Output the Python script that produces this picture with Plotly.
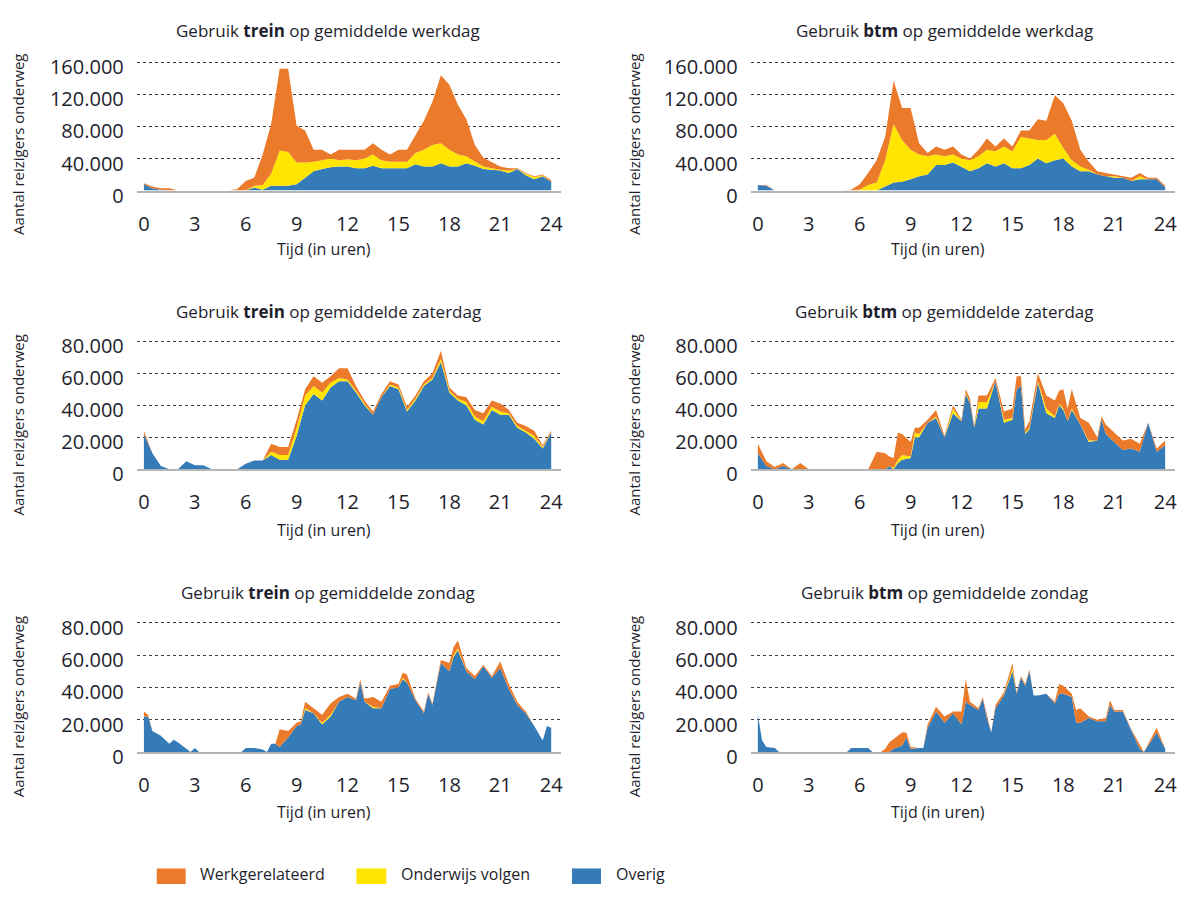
import plotly.graph_objects as go

W, H = 1181, 902

# ---------------- data (values in thousands of travellers) ----------------
T_HALF = [0, 0.5, 1, 1.5, 2, 2.5, 3, 3.5, 4, 4.5, 5, 5.5, 6, 6.5, 7, 7.5, 8, 8.5, 9, 9.5,
          10, 10.5, 11, 11.5, 12, 12.5, 13, 13.5, 14, 14.5, 15, 15.5, 16, 16.5, 17, 17.5,
          18, 18.5, 19, 19.5, 20, 20.5, 21, 21.5, 22, 22.5, 23, 23.5, 24]

# Trein - werkdag
tw_overig = [8, 3, 1, 0, 0, 0, 0, 0, 0, 0, 0, 0, 0, 4, 1, 6, 6, 6, 8, 16, 24, 27, 29, 30, 30, 28, 28,
             31, 28, 28, 28, 28, 33, 30, 30, 34, 30, 30, 34, 31, 27, 26, 25, 22, 27, 19, 14, 18, 11]
tw_onderwijs = [0, 0, 0, 0, 0, 0, 0, 0, 0, 0, 0, 0, 0, 2, 6, 15, 44, 42, 27, 19, 12, 11, 11, 8, 9, 10,
                12, 14, 10, 8, 8, 8, 14, 21, 27, 25, 21, 15, 9, 6, 3, 2, 1, 3, 0, 2, 3, 1, 0]
tw_werk = [1, 2, 2, 3, 0, 0, 0, 0, 0, 0, 0, 2, 12, 10, 38, 62, 102, 104, 46, 40, 15, 13, 5, 13, 12, 13,
           11, 14, 13, 9, 15, 15, 22, 36, 54, 85, 81, 62, 46, 20, 11, 7, 4, 3, 1, 1, 1, 1, 2]

# BTM - werkdag
bw_overig = [7, 6, 0, 0, 0, 0, 0, 0, 0, 0, 0, 0, 0, 0, 0, 5, 10, 11, 14, 18, 20, 32, 32, 35, 30, 24, 28,
             34, 30, 34, 28, 28, 32, 40, 34, 38, 40, 30, 24, 24, 20, 18, 16, 16, 12, 14, 14, 14, 4]
bw_onderwijs = [0, 0, 0, 0, 0, 0, 0, 0, 0, 0, 0, 0, 1, 7, 10, 33, 73, 52, 37, 27, 23, 13, 11, 10, 10, 14,
                15, 17, 19, 21, 21, 39, 33, 23, 29, 33, 13, 8, 6, 2, 0, 0, 2, 0, 0, 4, 0, 0, 0]
bw_werk = [0, 1, 0, 0, 0, 0, 0, 0, 0, 0, 0, 1, 7, 15, 28, 29, 54, 40, 52, 14, 4, 10, 8, 10, 5, 2, 8, 14,
           6, 10, 6, 8, 10, 26, 24, 48, 56, 49, 21, 10, 4, 4, 2, 2, 4, 4, 2, 2, 2]

# Trein - zaterdag
tz_overig = [22, 10, 2, 0, 0, 5, 2.5, 2.5, 0, 0, 0, 0, 3.5, 5.5, 5.5, 9, 6, 6, 21, 40, 47, 43, 51, 55, 55,
             48, 40, 34, 45, 52, 50, 36, 43, 52, 56, 67, 48, 43, 40, 31, 28, 37, 34, 34, 26, 23, 19, 13, 23]
tz_onderwijs = [0, 0, 0, 0, 0, 0, 0, 0, 0, 0, 0, 0, 0, 0, 0, 2, 3, 3, 5, 6, 5, 5, 3, 2, 1, 1, 1, 0, 0, 1,
                1, 1, 1, 1, 1, 2, 1, 1, 2, 2, 2, 2, 2, 1, 1, 1, 2, 1, 0]
tz_werk = [2, 0, 0, 0, 0, 0, 0, 0, 0, 0, 0, 0, 0, 0, 0, 5, 5, 5, 5, 4, 6, 6, 4, 6, 7, 3, 2, 2, 2, 2, 2, 2,
           2, 2, 3, 5, 2, 2, 3, 4, 5, 4, 5, 2, 2, 3, 3, 1, 1]

# BTM - zaterdag
bz_t = [0, 0.5, 1, 1.5, 2, 2.5, 3, 6.5, 7, 7.5, 7.75, 8, 8.25, 8.5, 9, 9.25, 9.5, 10, 10.5, 11, 11.5, 12,
        12.25, 12.5, 12.75, 13, 13.5, 14, 14.5, 15, 15.25, 15.5, 15.75, 16, 16.5, 17, 17.5, 17.75, 18,
        18.25, 18.5, 19, 19.5, 20, 20.25, 20.5, 21, 21.5, 22, 22.5, 23, 23.5, 24]
bz_overig = [10, 2, 0, 2, 0, 0, 0, 0, 0, 0, 2, 0, 4, 6, 7, 20, 20, 29, 32, 20, 35, 30, 47, 41, 26, 38, 38,
             55, 29, 31, 50, 52, 22, 25, 54, 35, 32, 40, 37, 30, 37, 28, 17, 18, 31, 22, 17, 12, 13, 11,
             29, 11, 15]
bz_onderwijs = [0, 0, 0, 0, 0, 0, 0, 0, 0, 0, 0, 1, 2, 3, 1, 3, 2, 0, 1, 0, 3, 0, 1, 0, 0, 4, 4, 0, 2, 1,
                0, 0, 1, 1, 1, 3, 1, 1, 1, 0, 1, 0, 1, 0, 0, 0, 0, 0, 0, 0, 0, 0, 0]
bz_werk = [6, 3, 1.5, 2, 0, 4, 0, 0, 11, 10, 6, 6, 17, 13, 9, 3, 4, 2, 4, 1, 2, 1, 2, 3, 1, 4, 4, 2, 5, 6,
           8, 6, 2, 4, 5, 8, 10, 8, 12, 8, 12, 4, 11, 2, 2, 6, 6, 6, 6, 5, 0, 2, 3]

# Trein - zondag
ts_t = [0, 0.25, 0.5, 1, 1.5, 1.75, 2, 2.5, 2.75, 3, 3.25, 5.75, 6, 6.5, 7, 7.25, 7.5, 7.75, 8, 8.5, 9,
        9.25, 9.5, 10, 10.5, 11, 11.5, 12, 12.5, 12.75, 13, 13.5, 14, 14.5, 15, 15.25, 15.5, 16, 16.5,
        16.75, 17, 17.5, 18, 18.25, 18.5, 19, 19.5, 20, 20.5, 21, 21.5, 22, 22.5, 23, 23.5, 23.75, 24]
ts_overig = [22, 22, 13, 10, 5, 7.5, 6, 2, 0, 2.5, 0, 0, 2.5, 2.5, 1.5, 0, 5, 5, 3, 9, 16, 17, 26, 24, 17,
             22, 31, 34, 32, 43, 31, 27, 27, 39, 40, 45, 43, 32, 24, 36, 29, 55, 50, 59, 63, 50, 45, 53,
             46, 52, 39, 29, 24, 16, 7, 16, 15]
ts_onderwijs = [0, 0, 0, 0, 0, 0, 0, 0, 0, 0, 0, 0, 0, 0, 0, 0, 0, 0, 0, 0, 0, 0, 1, 0, 1, 1, 0, 0, 0, 0,
                0, 1, 0, 0, 0, 1, 0, 0, 0, 0, 0, 0, 0, 1, 1, 0, 0, 0, 0, 0, 0, 0, 0, 0, 0, 0, 0]
ts_werk = [3, 1, 0, 0, 0, 0, 0, 0, 0, 0, 0, 0, 0, 0, 0, 0, 0, 0, 11, 4, 2, 2, 4, 3, 5, 7, 3, 2, 1, 2, 2, 6,
           4, 2, 2, 3, 5, 1, 1, 1, 1, 2, 5, 5, 5, 2, 2, 1, 1, 4, 3, 2, 1, 0, 0, 0, 0]

# BTM - zondag
bs_t = [0, 0.25, 0.5, 1, 1.25, 5.25, 5.5, 6, 6.5, 6.75, 7.25, 7.5, 7.75, 8, 8.5, 8.75, 9, 9.5, 9.75, 10,
        10.5, 11, 11.5, 12, 12.25, 12.5, 13, 13.25, 13.5, 13.75, 14, 14.5, 15, 15.25, 15.5, 15.75, 16,
        16.25, 16.5, 17, 17.5, 17.75, 18, 18.5, 18.75, 19, 19.5, 20, 20.5, 20.75, 21, 21.5, 22, 22.5,
        22.75, 23.25, 23.5, 24]
bs_overig = [23, 7, 3, 2.5, 0, 0, 2.5, 2.5, 2.5, 0, 0, 0, 0, 2, 4, 9, 2, 2.5, 2.5, 15, 25, 18, 24, 17, 31,
             29, 26, 33, 21, 12, 27, 35, 50, 36, 46, 41, 50, 35, 35, 36, 30, 36, 36, 34, 18, 18, 21, 19,
             19, 29, 25, 25, 13, 2, 0, 8, 12, 2]
bs_onderwijs = [0, 0, 0, 0, 0, 0, 0, 0, 0, 0, 0, 0, 0, 0, 0, 0, 0, 0, 0, 0, 0, 0, 0, 0, 0, 0, 0, 0, 0, 0,
                0, 0, 2, 0, 0, 0, 0, 0, 0, 0, 0, 0, 0, 0, 0, 0, 0, 0, 0, 0, 0, 0, 0, 0, 0, 0, 0, 0]
bs_werk = [0, 0, 0, 0, 0, 0, 0, 0, 0, 0, 0, 2, 6, 6, 8, 3, 1, 0, 0, 2, 3, 4, 1, 8, 14, 2, 1, 1, 2, 0, 2, 2,
           3, 1, 1, 1, 1, 0, 0, 0, 1, 6, 5, 2, 8, 9, 1, 1, 2, 3, 1, 1, 1, 3, 0, 2, 3, 0]

X_TICKS = [0, 3, 6, 9, 12, 15, 18, 21, 24]
Y_TICKS_WERKDAG = [0, 40000, 80000, 120000, 160000]
Y_LABELS_WERKDAG = ["0", "40.000", "80.000", "120.000", "160.000"]
Y_TICKS_WEEKEND = [0, 20000, 40000, 60000, 80000]
Y_LABELS_WEEKEND = ["0", "20.000", "40.000", "60.000", "80.000"]

SERIES_NAMES = ["Werkgerelateerd", "Onderwijs volgen", "Overig"]

# ---------------- style ----------------
ORANGE = "#EC7A2B"
YELLOW = "#FFE500"
BLUE = "#347BB8"
TEXT = "#1E1E2C"
FONT = "Open Sans"


def px_x(x):
    return x / W


def px_y(y):
    return 1 - y / H


panels = [
    dict(t=T_HALF, ov=tw_overig, ond=tw_onderwijs, wrk=tw_werk, col=0, row=0,
         title="Gebruik <b>trein</b> op gemiddelde werkdag", werkdag=True),
    dict(t=T_HALF, ov=bw_overig, ond=bw_onderwijs, wrk=bw_werk, col=1, row=0,
         title="Gebruik <b>btm</b> op gemiddelde werkdag", werkdag=True),
    dict(t=T_HALF, ov=tz_overig, ond=tz_onderwijs, wrk=tz_werk, col=0, row=1,
         title="Gebruik <b>trein</b> op gemiddelde zaterdag", werkdag=False),
    dict(t=bz_t, ov=bz_overig, ond=bz_onderwijs, wrk=bz_werk, col=1, row=1,
         title="Gebruik <b>btm</b> op gemiddelde zaterdag", werkdag=False),
    dict(t=ts_t, ov=ts_overig, ond=ts_onderwijs, wrk=ts_werk, col=0, row=2,
         title="Gebruik <b>trein</b> op gemiddelde zondag", werkdag=False),
    dict(t=bs_t, ov=bs_overig, ond=bs_onderwijs, wrk=bs_werk, col=1, row=2,
         title="Gebruik <b>btm</b> op gemiddelde zondag", werkdag=False),
]

# plot-area pixel boxes (top px, bottom px)
COL_X = [(137, 562), (752, 1177)]
ROW_Y = [(56, 188), (343, 475), (633, 766)]
TITLE_X = [329, 946]
TITLE_Y = [23, 312, 602]
YTITLE_X = [18, 635]
YTITLE_Y = [140, 429, 719]
XTITLE_X = [325, 940]
XTITLE_Y = [248, 538, 828]

fig = go.Figure()
layout = dict(
    width=W, height=H, margin=dict(l=0, r=0, t=0, b=0), autosize=False,
    paper_bgcolor="white", plot_bgcolor="white", showlegend=False,
    font=dict(family=FONT, color=TEXT),
)
annotations = []
shapes = []

for i, p in enumerate(panels):
    n = i + 1
    xa = "x" if n == 1 else f"x{n}"
    ya = "y" if n == 1 else f"y{n}"
    for name, vals, color in [("Overig", p["ov"], BLUE),
                              ("Onderwijs volgen", p["ond"], YELLOW),
                              ("Werkgerelateerd", p["wrk"], ORANGE)]:
        fig.add_trace(go.Scatter(
            x=p["t"], y=[v * 1000 for v in vals], name=name, mode="lines",
            stackgroup=f"g{n}", line=dict(width=0, color=color), fillcolor=color,
            xaxis=xa, yaxis=ya, showlegend=False, hoverinfo="skip"))

    x0, x1 = COL_X[p["col"]]
    top_px, bot_px = ROW_Y[p["row"]]
    top = 160000 if p["werkdag"] else 80000
    ytop = top * 1.008
    extra = (ytop - top) / top * (bot_px - top_px)
    layout["xaxis" if n == 1 else f"xaxis{n}"] = dict(
        domain=[px_x(x0), px_x(x1)], range=[-0.42, 24.58], anchor=ya,
        tickvals=X_TICKS, ticktext=[str(v) for v in X_TICKS],
        showgrid=False, zeroline=False, showline=True, linecolor="#B5B5B5", linewidth=2,
        ticks="", ticklabelstandoff=14, tickfont=dict(size=20, family=FONT, color=TEXT),
        fixedrange=True)
    layout["yaxis" if n == 1 else f"yaxis{n}"] = dict(
        domain=[px_y(bot_px), px_y(top_px - extra)], range=[0, ytop], anchor=xa,
        tickvals=Y_TICKS_WERKDAG if p["werkdag"] else Y_TICKS_WEEKEND,
        ticktext=Y_LABELS_WERKDAG if p["werkdag"] else Y_LABELS_WEEKEND,
        showgrid=True, gridcolor="#3A3A3A", griddash="dot", gridwidth=1,
        zeroline=False, showline=False, ticks="", ticklabelstandoff=12, ticklabelshift=5,
        tickfont=dict(size=20, family=FONT, color=TEXT), fixedrange=True)

    annotations.append(dict(
        text=p["title"], x=px_x(TITLE_X[p["col"]]), y=px_y(TITLE_Y[p["row"]]),
        xref="paper", yref="paper", xanchor="center", yanchor="middle", showarrow=False,
        font=dict(size=17, family=FONT, color=TEXT)))
    annotations.append(dict(
        text="Aantal reizigers onderweg", x=px_x(YTITLE_X[p["col"]]), y=px_y(YTITLE_Y[p["row"]]),
        xref="paper", yref="paper", xanchor="center", yanchor="middle", showarrow=False,
        textangle=-90, font=dict(size=15, family=FONT, color=TEXT)))
    annotations.append(dict(
        text="Tijd (in uren)", x=px_x(XTITLE_X[p["col"]]), y=px_y(XTITLE_Y[p["row"]]),
        xref="paper", yref="paper", xanchor="center", yanchor="middle", showarrow=False,
        font=dict(size=16, family=FONT, color=TEXT)))

# legend (bottom)
LEG = [(157, 186, 198, ORANGE), (357, 387, 400, YELLOW), (573, 602, 615, BLUE)]
for (sx0, sx1, tx, color), name in zip(LEG, SERIES_NAMES):
    shapes.append(dict(type="rect", xref="paper", yref="paper",
                       x0=px_x(sx0), x1=px_x(sx1), y0=px_y(902), y1=px_y(886),
                       fillcolor=color, line=dict(width=0)))
    annotations.append(dict(text=name, x=px_x(tx), y=px_y(892), xref="paper", yref="paper",
                            xanchor="left", yanchor="middle", showarrow=False,
                            font=dict(size=16, family=FONT, color=TEXT)))

layout["annotations"] = annotations
layout["shapes"] = shapes
fig.update_layout(**layout)

PAGE_CSS = "margin:0;padding:0;overflow:hidden;width:1181px;height:902px;"
fig.write_html(
    "out.html",
    config={"displayModeBar": False},
    post_script=(
        "document.documentElement.style.cssText='" + PAGE_CSS + "';"
        "document.body.style.cssText='" + PAGE_CSS + "';"
        "var gd=document.getElementById('{plot_id}');"
        "gd.style.position='fixed';gd.style.top='0';gd.style.left='0';"
        "if(gd.parentNode){gd.parentNode.style.cssText='margin:0;padding:0;height:0;overflow:visible;';}"
    ),
)
